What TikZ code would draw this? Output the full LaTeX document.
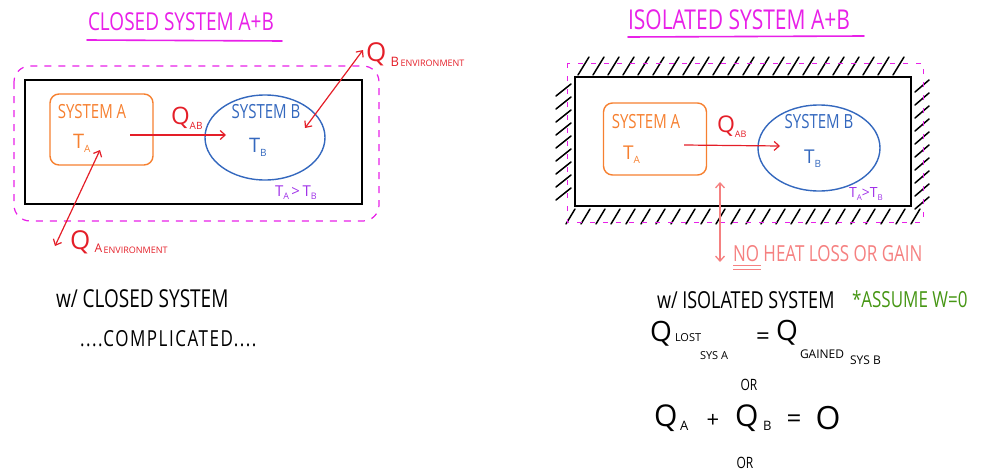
\documentclass[tikz,border=0pt]{standalone}
\usepackage{fontspec}
\setmainfont{Open Sans}
\usetikzlibrary{arrows.meta,shapes.geometric}
\definecolor{hmag}{RGB}{232,32,232}
\definecolor{horange}{RGB}{246,128,48}
\definecolor{hblue}{RGB}{52,104,190}
\definecolor{hred}{RGB}{228,30,40}
\definecolor{hviolet}{RGB}{160,50,232}
\definecolor{hpink}{RGB}{245,128,128}
\definecolor{hgreen}{RGB}{70,150,20}
\newcommand{\fs}[1]{\fontsize{#1}{#1}\selectfont}
\newcommand{\lowsub}[3]{\raisebox{-#2pt}{\fs{#1}#3}}
\newcommand{\tall}[1]{\scalebox{1}[1.3]{#1}}
\begin{document}
\begin{tikzpicture}[x=1pt,y=-1pt,
  txt/.style={inner sep=0pt,outer sep=0pt},
  title/.style={txt,text=hmag},
  underl/.style={hmag,line width=1.6pt,line cap=round},
  wall/.style={black,line width=1.6pt},
  sysa/.style={draw=horange,line width=1.4pt,rounded corners=9pt},
  sysb/.style={draw=hblue,line width=1.4pt,ellipse,inner sep=0pt},
  heat/.style={hred,line width=1.2pt,-{Straight Barb[length=5pt,width=9pt]}},
  heat2/.style={hred,line width=1.2pt,{Straight Barb[length=5pt,width=9pt]}-{Straight Barb[length=5pt,width=9pt]}},
  bound/.style={hmag,line width=1.2pt,dashed,dash pattern=on 7pt off 7pt},
  hatch/.style={black,line width=1.5pt,line cap=round}]
\useasboundingbox (0,0) rectangle (982,471);

% ---------------- closed system ----------------
\node[title,anchor=west,font=\fs{19}] (ctitle) at (88,22) {\tall{CLOSED SYSTEM A+B}};
\draw[underl] (87,40) -- (282,41);
\draw[bound,rounded corners=16pt] (14,66) rectangle (379,221);
\draw[wall] (25,80) rectangle (362,204);
\node[sysa,minimum width=103pt,minimum height=71pt] (ca) at (101.5,129.5) {};
\node[txt,text=horange,font=\fs{15}] (calab) at (92,112) {\tall{SYSTEM A}};
\node[txt,text=horange,font=\fs{20},anchor=west] (cta) at (73,143) {T\lowsub{10}{4}{A}};
\node[sysb,minimum width=120pt,minimum height=85pt] (cb) at (265,137.5) {};
\node[txt,text=hblue,font=\fs{15}] (cblab) at (266,112) {\tall{SYSTEM B}};
\node[txt,text=hblue,font=\fs{20},anchor=west] (ctb) at (249,147) {T\lowsub{10}{4}{B}};
\coordinate (cqs) at (130,135);
\coordinate (cqe) at (226,135);
\draw[heat] (cqs) -- (cqe);
\node[txt,text=hred,font=\fs{24},anchor=west] (cqab) at (171,118) {Q\lowsub{10}{5}{AB}};
\node[txt,text=hviolet,font=\fs{15},anchor=west] (crel) at (275,193) {T\lowsub{9}{3}{A}\,>\,T\lowsub{9}{3}{B}};
% exchanges with the environment
\coordinate (cbin) at (305,128);
\coordinate (cbout) at (363,50);
\draw[heat2] (cbin) -- (cbout);
\node[txt,text=hred,font=\fs{26},anchor=west] (cqbe) at (366,55) {Q\,\lowsub{13}{5}{B}\lowsub{9}{5}{\,ENVIRONMENT}};
\coordinate (cain) at (100,150);
\coordinate (caout) at (55,246);
\draw[heat2] (cain) -- (caout);
\node[txt,text=hred,font=\fs{26},anchor=west] (cqae) at (70,242) {Q\,\lowsub{12}{3}{A}\lowsub{9}{4}{\,ENVIRONMENT}};
\node[txt,font=\fs{19},anchor=west] (cnote) at (56,299) {\tall{w/ CLOSED SYSTEM}};
\node[txt,font=\fs{17}\addfontfeature{LetterSpace=9},anchor=west] (ccomp) at (80,339) {\tall{....COMPLICATED....}};

% ---------------- isolated system ----------------
\node[title,anchor=west,font=\fs{21}] (ititle) at (628,20) {\tall{ISOLATED SYSTEM A+B}};
\draw[underl] (628,37) -- (864,36);
% insulation hatching around the wall
\foreach \x in {578,593,...,905} \draw[hatch] (\x,75) -- (\x+11,57);
\foreach \x in {566,581,...,915} \draw[hatch] (\x,224) -- (\x+9,209);
\foreach \y in {84,97,...,200} \draw[hatch] (556,\y+12) -- (571,\y);
\foreach \y in {80,93,...,200} \draw[hatch] (915,\y+12) -- (929,\y);
\draw[hmag,line width=0.9pt,dashed,dash pattern=on 5pt off 8pt] (567,63) rectangle (923,222);
\draw[wall] (575,77) rectangle (911,206);
\node[sysa,minimum width=103pt,minimum height=72pt] (ia) at (655,139) {};
\node[txt,text=horange,font=\fs{15}] (ialab) at (646,122) {\tall{SYSTEM A}};
\node[txt,text=horange,font=\fs{19},anchor=west] (ita) at (623,155) {T\lowsub{10}{4}{A}};
\node[sysb,minimum width=122pt,minimum height=86pt] (ib) at (819,148) {};
\node[txt,text=hblue,font=\fs{15}] (iblab) at (819,122) {\tall{SYSTEM B}};
\node[txt,text=hblue,font=\fs{19},anchor=west] (itb) at (804,159) {T\lowsub{10}{4}{B}};
\coordinate (iqs) at (684,145);
\coordinate (iqe) at (780,146);
\draw[heat] (iqs) -- (iqe);
\node[txt,text=hred,font=\fs{23},anchor=west] (iqab) at (717,127) {Q\lowsub{9}{5}{AB}};
\node[txt,text=hviolet,font=\fs{14},anchor=west] (irel) at (849,194) {T\lowsub{8}{3}{A}>T\lowsub{8}{3}{B}};
\coordinate (inup) at (720,182);
\coordinate (indn) at (720,262);
\draw[hpink,line width=1.3pt,{Straight Barb[length=5pt,width=9pt]}-{Straight Barb[length=5pt,width=9pt]}] (inup) -- (indn);
\node[txt,text=hpink,font=\fs{17},anchor=west] (inohe) at (733,254) {\tall{NO HEAT LOSS OR GAIN}};
\draw[hpink,line width=1.2pt] (inohe.south west) ++(0,3) -- ++(28,0) ++(-28,4) -- ++(28,0);
\node[txt,font=\fs{18},anchor=west] (inote) at (657,300) {\tall{w/ ISOLATED SYSTEM}};
\node[txt,text=hgreen,font=\fs{17},anchor=west] (iass) at (852,299) {\tall{*ASSUME W=0}};
% energy balance
\node[txt,font=\fs{28},anchor=west] (eq1a) at (650,334) {Q};
\node[txt,font=\fs{11},anchor=west] (eq1b) at (675,338) {LOST};
\node[txt,font=\fs{11},anchor=west] (eq1c) at (700,356) {SYS A};
\node[txt,font=\fs{24}] (eq1d) at (763,339) {=};
\node[txt,font=\fs{28},anchor=west] (eq1e) at (776,333) {Q};
\node[txt,font=\fs{12},anchor=west] (eq1f) at (800,354) {GAINED};
\node[txt,font=\fs{12},anchor=west] (eq1g) at (850,360) {SYS B};
\node[txt,font=\fs{12}] (or1) at (749,385) {\tall{OR}};
\node[txt,font=\fs{30},anchor=west] (eq2a) at (654,418) {Q};
\node[txt,font=\fs{13},anchor=west] (eq2b) at (680,426) {A};
\node[txt,font=\fs{22}] (eq2c) at (713,421) {+};
\node[txt,font=\fs{30},anchor=west] (eq2d) at (735,418) {Q};
\node[txt,font=\fs{13},anchor=west] (eq2e) at (763,426) {B};
\node[txt,font=\fs{26}] (eq2f) at (794,421) {=};
\node[txt,font=\fs{32}] (eq2g) at (828,418) {O};
\node[txt,font=\fs{12}] (or2) at (745,463) {\tall{OR}};
\end{tikzpicture}
\end{document}
